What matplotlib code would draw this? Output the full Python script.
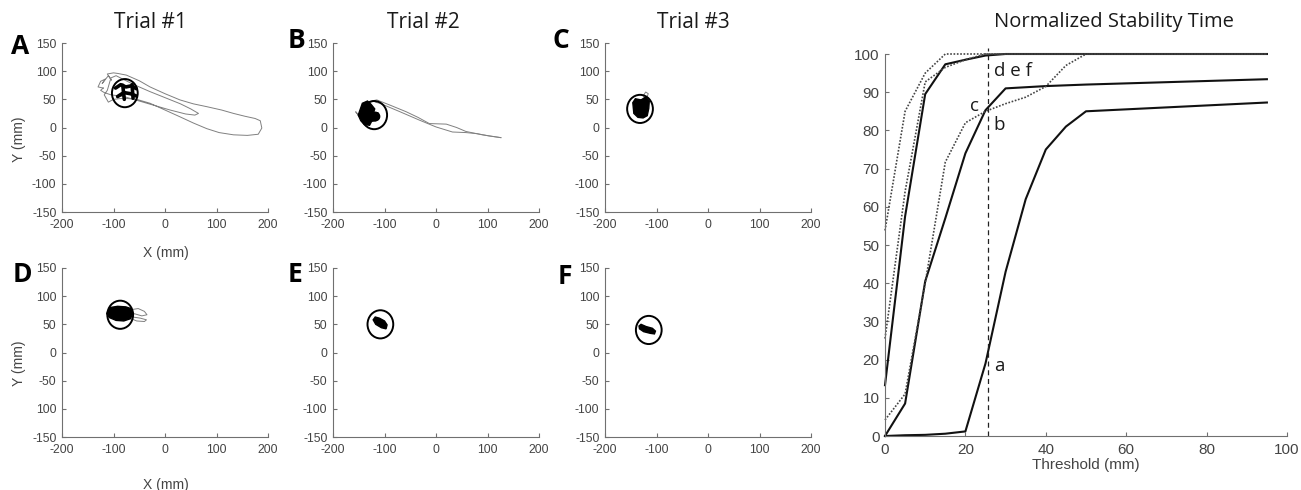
import numpy as np
import matplotlib.pyplot as plt
from matplotlib.patches import Circle

plt.rcParams["axes.unicode_minus"] = False

# ---- right panel: normalized stability time vs threshold ----
thresholds = [0, 5, 10, 15, 20, 25, 30, 35, 40, 45, 50, 95]
curve_a = [0, 0.2, 0.3, 0.6, 1.2, 19, 43, 62, 75, 81, 85, 87.3]
curve_b = [0, 8.5, 40.5, 57, 74, 85.3, 91, 91.3, 91.6, 91.8, 92, 93.4]
curve_c = [4.2, 11, 40, 71.7, 82, 85, 87, 88.7, 91.5, 97, 100, 100]
curve_d = [13.3, 57.5, 89.5, 97.3, 98.5, 99.6, 100, 100, 100, 100, 100, 100]
curve_e = [25.5, 64, 92.7, 96.5, 98.5, 100, 100, 100, 100, 100, 100, 100]
curve_f = [53.8, 85, 95, 100, 100, 100, 100, 100, 100, 100, 100, 100]
threshold_mark = 25.5

# ---- trajectory panels (mm) ----
centers = {"A": (-78, 61), "B": (-120, 22), "C": (-132, 33),
           "D": (-87, 67), "E": (-108, 50), "F": (-115, 40)}
radius = 25

trackA_x = [-120, -130, -125, -116, -122, -110, -104, -112, -100, -92, -75, -50, -29, 0, 29, 55, 81,
            110, 133, 155, 175, 185, 188, 181, 160, 133, 105, 81, 55, 29, 0, -29, -55, -80, -100,
            -110, -118, -112, -105, -95, -80, -60, -30, 0, 30, 50, 65, 58, 40, 10, -20, -50, -80,
            -105, -118, -125, -120]
trackA_y = [70, 72, 82, 86, 78, 92, 84, 95, 97, 96, 93, 83, 72, 60, 49, 42, 37,
            31, 25, 20, 16, 12, -1, -12, -14, -13, -9, -2, 8, 19, 31, 43, 50, 52, 50,
            45, 58, 66, 88, 92, 85, 76, 64, 53, 42, 33, 25, 22, 24, 31, 39, 47, 55,
            58, 62, 66, 70]
inkA = [([-96, -86, -76, -65, -56], [70, 76, 72, 74, 69]),
        ([-92, -80, -67, -56], [55, 62, 60, 56]),
        ([-82, -79], [75, 50]),
        ([-64, -62], [76, 52])]

trackB_up_x = [-150, -156, -148, -125, -115, -90, -58, -35, -13, 20, 40, 58, 90, 126]
trackB_up_y = [22, 28, 18, 47, 49, 40, 28, 18, 7, 6, 0, -7, -13, -18]
trackB_lo_x = [-118, -109, -70, -32, 0, 32, 58, 80, 103, 126]
trackB_lo_y = [45, 43, 28, 13, 1, -8, -9, -11, -15, -18]
blobB_x = [-148, -143, -133, -126, -119, -121, -113, -111, -117, -125, -129, -139, -146, -151, -148]
blobB_y = [30, 43, 47, 41, 33, 27, 26, 17, 12, 11, 4, 5, 12, 22, 30]

blobC_x = [-146, -141, -130, -121, -114, -115, -118, -126, -136, -144, -146]
blobC_y = [44, 51, 49, 54, 47, 34, 21, 17, 18, 25, 44]
loopC_x = [-120, -116, -121, -126, -121]
loopC_y = [50, 60, 63, 56, 50]

blobD_x = [-111, -106, -92, -76, -66, -62, -67, -80, -95, -108, -113, -111]
blobD_y = [74, 80, 82, 81, 78, 70, 60, 56, 57, 62, 69, 74]
loopD_x = [-66, -52, -40, -35, -45, -60, -63, -48, -36, -40, -55, -66]
loopD_y = [76, 78, 73, 67, 65, 69, 63, 61, 58, 55, 56, 60]

blobE_x = [-122, -118, -110, -100, -95, -97, -106, -117, -122]
blobE_y = [58, 63, 61, 56, 49, 42, 44, 50, 58]

blobF_x = [-134, -130, -120, -108, -102, -104, -112, -125, -133, -134]
blobF_y = [47, 50, 46, 43, 38, 33, 34, 37, 42, 47]

xticks_small = [-200, -100, 0, 100, 200]
yticks_small = [-150, -100, -50, 0, 50, 100, 150]
yticklabels_D = ["-150", "100", "-50", "0", "50", "100", "150"]

W, H = 1301, 490
axis_gray = "#707070"
label_gray = "#444444"
title_font = "Open Sans"
tick_font = "Liberation Sans"

fig = plt.figure(figsize=(W / 100, H / 100), dpi=100)


def add_px_axes(left, right, top, bottom):
    return fig.add_axes([left / W, 1 - bottom / H, (right - left) / W, (bottom - top) / H])


def style_axes(ax, size, xpad, ypad):
    for side in ["top", "right"]:
        ax.spines[side].set_visible(False)
    for side in ["left", "bottom"]:
        ax.spines[side].set_color(axis_gray)
        ax.spines[side].set_linewidth(0.8)
    ax.tick_params(direction="in", length=3, width=0.8, colors=axis_gray,
                   labelcolor=label_gray, labelsize=size)
    ax.tick_params(axis="x", pad=xpad)
    ax.tick_params(axis="y", pad=ypad)
    for lab in ax.get_xticklabels() + ax.get_yticklabels():
        lab.set_family(tick_font)


def small_panel(left, top, name):
    ax = add_px_axes(left, left + 206, top, top + 169)
    ax.set_xlim(-200, 200)
    ax.set_ylim(-150, 150)
    ax.set_xticks(xticks_small)
    ax.set_yticks(yticks_small)
    cx, cy = centers[name]
    ax.add_patch(Circle((cx, cy), radius, fill=False, ec="black", lw=1.4, zorder=4))
    style_axes(ax, 8.8, 5, 4)
    return ax


track_kw = dict(color="#808080", lw=0.7)

axA = small_panel(62, 43, "A")
axA.plot(trackA_x, trackA_y, **track_kw)
for xs, ys in inkA:
    axA.plot(xs, ys, color="black", lw=2.6, solid_capstyle="round", zorder=5)

axB = small_panel(333, 43, "B")
axB.plot(trackB_up_x, trackB_up_y, **track_kw)
axB.plot(trackB_lo_x, trackB_lo_y, **track_kw)
axB.fill(blobB_x, blobB_y, color="black", zorder=5)
axB.plot([-118], [20], "o", color="black", ms=6, zorder=5)

axC = small_panel(605, 43, "C")
axC.plot(loopC_x, loopC_y, **track_kw)
axC.fill(blobC_x, blobC_y, color="black", zorder=5)

axD = small_panel(62, 268, "D")
axD.plot(loopD_x, loopD_y, **track_kw)
axD.fill(blobD_x, blobD_y, color="black", zorder=5)
axD.set_yticklabels(yticklabels_D)
for lab in axD.get_yticklabels():
    lab.set_family(tick_font)

axE = small_panel(333, 268, "E")
axE.fill(blobE_x, blobE_y, color="black", zorder=5)

axF = small_panel(605, 268, "F")
axF.fill(blobF_x, blobF_y, color="black", zorder=5)

# axis labels of the small panels
for y in [253, 485]:
    fig.text(166 / W, 1 - y / H, "X (mm)", ha="center", va="center", fontsize=10,
             family=tick_font, color=label_gray)
for y in [139, 363]:
    fig.text(19 / W, 1 - y / H, "Y (mm)", ha="center", va="center", rotation=90,
             fontsize=10, family=tick_font, color=label_gray)

# trial titles and panel letters
for x, label in [(150, "Trial #1"), (423, "Trial #2"), (693, "Trial #3")]:
    fig.text(x / W, 1 - 23 / H, label, ha="center", va="center", fontsize=15,
             family=title_font, color="#1a1a1a")
for x, y, letter in [(20, 47, "A"), (296, 40, "B"), (561, 41, "C"),
                     (22, 274, "D"), (295, 274, "E"), (565, 277, "F")]:
    fig.text(x / W, 1 - y / H, letter, ha="center", va="center", fontsize=19,
             fontweight="bold", family=title_font, color="black")

# ---- right panel ----
axR = add_px_axes(885, 1287, 54, 436)
axR.set_xlim(0, 100)
axR.set_ylim(0, 100)
solid_kw = dict(color="#111111", lw=1.5, clip_on=False)
dot_kw = dict(color="#444444", lw=1.2, ls=(0, (1, 1)), clip_on=False)
axR.plot(thresholds, curve_a, **solid_kw)
axR.plot(thresholds, curve_b, **solid_kw)
axR.plot(thresholds, curve_c, **dot_kw)
axR.plot(thresholds, curve_d, **solid_kw)
axR.plot(thresholds, curve_e, **dot_kw)
axR.plot(thresholds, curve_f, **dot_kw)
axR.plot([threshold_mark, threshold_mark], [0, 101.5], color="#222222", lw=0.9,
         ls=(0, (4, 3)), clip_on=False)
axR.set_xticks([0, 20, 40, 60, 80, 100])
axR.set_yticks(range(0, 101, 10))
style_axes(axR, 11, 5, 4)
axR.set_xlabel("Threshold (mm)", fontsize=11, family=tick_font, color=label_gray,
               labelpad=1)

for x, y, s, ha in [(27.2, 95.5, "d e f", "left"), (22.3, 86.5, "c", "center"),
                    (26.9, 81.3, "b", "left"), (27.1, 18.2, "a", "left")]:
    axR.text(x, y, s, ha=ha, va="center", fontsize=13.5,
             family=title_font, color="#1a1a1a")

fig.text(1114 / W, 1 - 22 / H, "Normalized Stability Time", ha="center", va="center",
         fontsize=14.5, family=title_font, color="#1a1a1a")

fig.savefig("out.png", dpi=100)
